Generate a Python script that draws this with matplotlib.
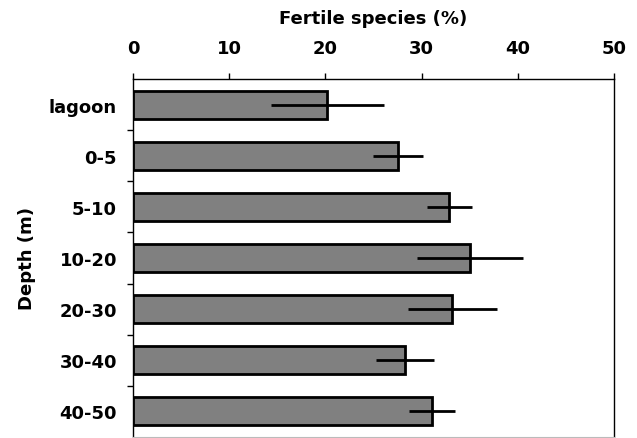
import matplotlib
matplotlib.use("Agg")
import matplotlib.pyplot as plt
import numpy as np

depths = ["lagoon", "0-5", "5-10", "10-20", "20-30", "30-40", "40-50"]
fertile = [20.2, 27.5, 32.9, 35.0, 33.2, 28.3, 31.1]
err = [5.9, 2.6, 2.3, 5.5, 4.6, 3.0, 2.4]

plt.rcParams['font.family'] = ['DejaVu Sans']
plt.rcParams['font.weight'] = 'bold'

fig = plt.figure(figsize=(6.37, 4.39), dpi=100)
ax = fig.add_axes([133/637, 1/439, (614-133)/637, (438-80)/439])

y = np.arange(len(depths))
ax.barh(y, fertile, height=0.55, color="#808080", edgecolor="black", linewidth=2.0)
ax.errorbar(fertile, y, xerr=err, fmt="none", ecolor="black", elinewidth=2.0, capsize=0)

ax.set_xlim(0, 50)
ax.set_ylim(6.5, -0.5)
ax.xaxis.tick_top()
ax.xaxis.set_label_position("top")
ax.set_xticks([0, 10, 20, 30, 40, 50])
ax.set_xlabel("Fertile species (%)", fontsize=13, fontweight="bold", labelpad=11)
ax.set_ylabel("Depth (m)", fontsize=13, fontweight="bold", labelpad=9)

ax.set_yticks(y)
ax.set_yticklabels(depths, fontsize=13, fontweight="bold")
ax.tick_params(axis="y", which="major", length=0, pad=11.5)
ax.set_yticks(np.arange(0.5, 6.5, 1.0), minor=True)
ax.tick_params(axis="y", which="minor", length=4, width=1, direction="out")
ax.tick_params(axis="x", length=4, width=1, direction="out", labelsize=13, pad=12)

for s in ["top", "right", "left"]:
    ax.spines[s].set_linewidth(1.0)
ax.spines["bottom"].set_color("#bbbbbb")

fig.savefig("out.png", dpi=100)
